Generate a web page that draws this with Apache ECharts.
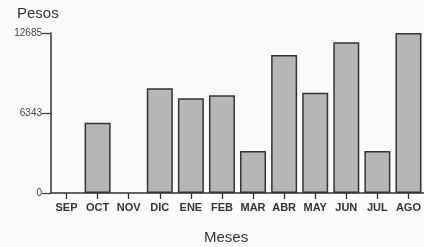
<!DOCTYPE html>
<html>
<head>
<meta charset="utf-8">
<script src="https://cdn.jsdelivr.net/npm/echarts@6/dist/echarts.min.js"></script>
<style>
  html, body { margin: 0; padding: 0; background: #fbfbfa; }
  #chart { width: 424px; height: 247px; }
</style>
</head>
<body>
<div id="chart"></div>
<script>
const months = ['SEP', 'OCT', 'NOV', 'DIC', 'ENE', 'FEB', 'MAR', 'ABR', 'MAY', 'JUN', 'JUL', 'AGO'];
const pesos = [0, 5570, 0, 8300, 7510, 7740, 3330, 10940, 7950, 11950, 3330, 12685];
const yMax = 12685;
const yStep = yMax / 2;

const chart = echarts.init(document.getElementById('chart'));

// empty months draw nothing, not a flat outlined bar
const barData = pesos.map(v => v === 0 ? {value: v, itemStyle: {borderWidth: 0}} : v);

chart.setOption({
    backgroundColor: '#fbfbfa',
    animation: false,
    title: [{
        text: 'Pesos',
        left: 12,
        top: 1,
        textStyle: {fontFamily: 'Liberation Sans', fontWeight: 'normal', fontSize: 15, color: '#333'}
    }, {
        text: 'Meses',
        left: 199,
        top: 225,
        textStyle: {fontFamily: 'Liberation Sans', fontWeight: 'normal', fontSize: 15, color: '#333'}
    }],
    grid: {
        left: 51,
        top: 33,
        bottom: 54,
        width: 382
    },
    xAxis: {
        type: 'category',
        data: months,
        axisLine: {lineStyle: {color: '#333', width: 1.5}},
        axisTick: {show: true, alignWithLabel: true, interval: 0, length: 6, lineStyle: {color: '#333', width: 1.3}},
        axisLabel: {
            interval: 0,
            margin: 9,
            fontFamily: 'Liberation Sans',
            fontWeight: 'bold',
            fontSize: 11,
            color: '#333'
        }
    },
    yAxis: {
        type: 'value',
        min: 0,
        max: yMax,
        interval: yStep,
        splitLine: {show: false},
        axisLine: {show: true, lineStyle: {color: '#333', width: 1.5}},
        axisTick: {show: true, length: 9, lineStyle: {color: '#333', width: 1.2}},
        axisLabel: {
            margin: 9,
            fontFamily: 'Liberation Sans',
            fontSize: 10,
            color: '#444',
            formatter: v => String(Math.round(v))
        }
    },
    series: [{
        type: 'bar',
        data: barData,
        barWidth: 26,
        itemStyle: {
            color: '#b6b6b6',
            borderColor: '#333',
            borderWidth: 1.5
        }
    }]
});
</script>
</body>
</html>
